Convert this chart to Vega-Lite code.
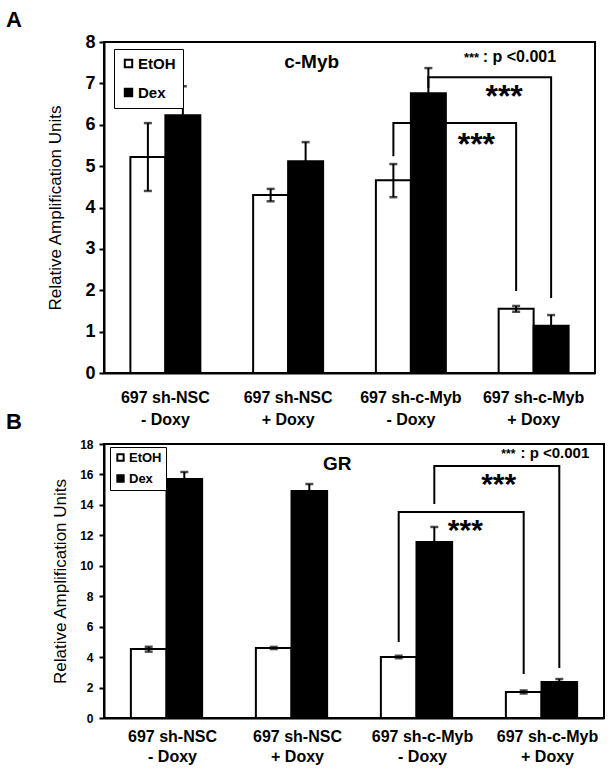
{
  "$schema": "https://vega.github.io/schema/vega-lite/v6.json",
  "background": "white",
  "padding": {"left": 5, "top": 8, "right": 5, "bottom": 5},
  "config": {
    "font": "Liberation Sans",
    "view": {"stroke": "black", "strokeWidth": 2},
    "axis": {"domainColor": "black", "domainWidth": 2, "tickColor": "black", "tickWidth": 2, "labelColor": "black", "titleColor": "black", "grid": false},
    "title": {"color": "black"},
    "text": {"color": "black"}
  },
  "datasets": {
    "barsA": [
      {"group": "697 sh-NSC|- Doxy", "treatment": "EtOH", "value": 5.22, "lo": 4.40, "hi": 6.04},
      {"group": "697 sh-NSC|- Doxy", "treatment": "Dex", "value": 6.23, "lo": 5.53, "hi": 6.93},
      {"group": "697 sh-NSC|+ Doxy", "treatment": "EtOH", "value": 4.30, "lo": 4.15, "hi": 4.45},
      {"group": "697 sh-NSC|+ Doxy", "treatment": "Dex", "value": 5.12, "lo": 4.66, "hi": 5.58},
      {"group": "697 sh-c-Myb|- Doxy", "treatment": "EtOH", "value": 4.66, "lo": 4.25, "hi": 5.05},
      {"group": "697 sh-c-Myb|- Doxy", "treatment": "Dex", "value": 6.76, "lo": 6.15, "hi": 7.37},
      {"group": "697 sh-c-Myb|+ Doxy", "treatment": "EtOH", "value": 1.55, "lo": 1.48, "hi": 1.62},
      {"group": "697 sh-c-Myb|+ Doxy", "treatment": "Dex", "value": 1.14, "lo": 0.88, "hi": 1.40}
    ],
    "barsB": [
      {"group": "697 sh-NSC|- Doxy", "treatment": "EtOH", "value": 4.53, "lo": 4.36, "hi": 4.68},
      {"group": "697 sh-NSC|- Doxy", "treatment": "Dex", "value": 15.70, "lo": 15.24, "hi": 16.16},
      {"group": "697 sh-NSC|+ Doxy", "treatment": "EtOH", "value": 4.60, "lo": 4.53, "hi": 4.67},
      {"group": "697 sh-NSC|+ Doxy", "treatment": "Dex", "value": 14.91, "lo": 14.45, "hi": 15.37},
      {"group": "697 sh-c-Myb|- Doxy", "treatment": "EtOH", "value": 4.01, "lo": 3.93, "hi": 4.09},
      {"group": "697 sh-c-Myb|- Doxy", "treatment": "Dex", "value": 11.56, "lo": 10.57, "hi": 12.55},
      {"group": "697 sh-c-Myb|+ Doxy", "treatment": "EtOH", "value": 1.71, "lo": 1.61, "hi": 1.81},
      {"group": "697 sh-c-Myb|+ Doxy", "treatment": "Dex", "value": 2.37, "lo": 2.18, "hi": 2.56}
    ],
    "bracketsA": [
      {"bracket": "low", "step": 1, "group": "697 sh-c-Myb|- Doxy", "treatment": "EtOH", "value": 5.24},
      {"bracket": "low", "step": 2, "group": "697 sh-c-Myb|- Doxy", "treatment": "EtOH", "value": 6.04},
      {"bracket": "low", "step": 3, "group": "697 sh-c-Myb|+ Doxy", "treatment": "EtOH", "value": 6.04},
      {"bracket": "low", "step": 4, "group": "697 sh-c-Myb|+ Doxy", "treatment": "EtOH", "value": 1.98},
      {"bracket": "high", "step": 1, "group": "697 sh-c-Myb|- Doxy", "treatment": "Dex", "value": 6.89},
      {"bracket": "high", "step": 2, "group": "697 sh-c-Myb|- Doxy", "treatment": "Dex", "value": 7.15},
      {"bracket": "high", "step": 3, "group": "697 sh-c-Myb|+ Doxy", "treatment": "Dex", "value": 7.15},
      {"bracket": "high", "step": 4, "group": "697 sh-c-Myb|+ Doxy", "treatment": "Dex", "value": 1.81}
    ],
    "bracketsB": [
      {"bracket": "low", "step": 1, "group": "697 sh-c-Myb|- Doxy", "treatment": "EtOH", "value": 4.99},
      {"bracket": "low", "step": 2, "group": "697 sh-c-Myb|- Doxy", "treatment": "EtOH", "value": 13.53},
      {"bracket": "low", "step": 3, "group": "697 sh-c-Myb|+ Doxy", "treatment": "EtOH", "value": 13.53},
      {"bracket": "low", "step": 4, "group": "697 sh-c-Myb|+ Doxy", "treatment": "EtOH", "value": 2.89},
      {"bracket": "high", "step": 1, "group": "697 sh-c-Myb|- Doxy", "treatment": "Dex", "value": 14.06},
      {"bracket": "high", "step": 2, "group": "697 sh-c-Myb|- Doxy", "treatment": "Dex", "value": 16.56},
      {"bracket": "high", "step": 3, "group": "697 sh-c-Myb|+ Doxy", "treatment": "Dex", "value": 16.56},
      {"bracket": "high", "step": 4, "group": "697 sh-c-Myb|+ Doxy", "treatment": "Dex", "value": 3.29}
    ]
  },
  "spacing": 71,
  "bounds": "flush",
  "resolve": {
    "scale": {"x": "independent", "y": "independent", "fill": "independent", "xOffset": "independent"},
    "legend": {"fill": "independent"}
  },
  "vconcat": [
    {
      "width": 491,
      "height": 331,
      "title": {"text": "A", "anchor": "start", "frame": "group", "dx": -98, "fontSize": 22, "fontWeight": "bold", "offset": 1},
      "layer": [
        {
          "data": {"name": "barsA"},
          "mark": {"type": "bar", "stroke": "black", "strokeWidth": 2},
          "encoding": {
            "x": {"field": "group", "type": "nominal",
              "scale": {"domain": ["697 sh-NSC|- Doxy", "697 sh-NSC|+ Doxy", "697 sh-c-Myb|- Doxy", "697 sh-c-Myb|+ Doxy"], "paddingInner": 0.43, "paddingOuter": 0.215},
              "axis": {"title": null, "labelExpr": "split(datum.label, '|')", "labelAngle": 0, "labelFontSize": 16, "labelFontWeight": "bold", "labelPadding": 16, "ticks": false, "labelLineHeight": 22}},
            "xOffset": {"field": "treatment", "type": "nominal", "scale": {"domain": ["EtOH", "Dex"]}},
            "y": {"field": "value", "type": "quantitative",
              "scale": {"domain": [0, 8], "nice": false},
              "axis": {"title": "Relative Amplification Units", "tickCount": 8, "labelOverlap": false, "labelFontSize": 18, "labelFontWeight": "bold", "tickSize": 5, "labelPadding": 4, "titleFontSize": 17, "titleFontWeight": "normal", "titlePadding": 20}},
            "fill": {"field": "treatment", "type": "nominal",
              "scale": {"domain": ["EtOH", "Dex"], "range": ["white", "black"]},
              "legend": {"orient": "none", "legendX": 10, "legendY": 7, "title": null, "strokeColor": "black", "fillColor": "white", "padding": 7, "rowPadding": 12, "labelFontSize": 15, "labelFontWeight": "bold", "labelColor": "black", "symbolType": "square", "symbolSize": 55, "symbolStrokeColor": "black", "symbolStrokeWidth": 2, "labelOffset": 2}}
          }
        },
        {
          "data": {"name": "barsA"},
          "mark": {"type": "rule", "color": "black", "strokeWidth": 2},
          "encoding": {
            "x": {"field": "group", "type": "nominal"},
            "xOffset": {"field": "treatment", "type": "nominal"},
            "y": {"field": "lo", "type": "quantitative"},
            "y2": {"field": "hi"}
          }
        },
        {
          "data": {"name": "barsA"},
          "mark": {"type": "tick", "color": "black", "size": 8, "thickness": 2.5, "orient": "horizontal"},
          "encoding": {
            "x": {"field": "group", "type": "nominal"},
            "xOffset": {"field": "treatment", "type": "nominal"},
            "y": {"field": "hi", "type": "quantitative"}
          }
        },
        {
          "data": {"name": "barsA"},
          "mark": {"type": "tick", "color": "black", "size": 8, "thickness": 2.5, "orient": "horizontal"},
          "encoding": {
            "x": {"field": "group", "type": "nominal"},
            "xOffset": {"field": "treatment", "type": "nominal"},
            "y": {"field": "lo", "type": "quantitative"}
          }
        },
        {
          "data": {"name": "bracketsA"},
          "mark": {"type": "line", "color": "black", "strokeWidth": 2},
          "encoding": {
            "x": {"field": "group", "type": "nominal"},
            "xOffset": {"field": "treatment", "type": "nominal"},
            "y": {"field": "value", "type": "quantitative"},
            "detail": {"field": "bracket"},
            "order": {"field": "step", "type": "quantitative"}
          }
        },
        {
          "data": {"values": [{}]},
          "mark": {"type": "text", "text": "c-Myb", "fontSize": 19, "fontWeight": "bold", "dx": 6, "baseline": "middle"},
          "encoding": {"x": {"datum": "697 sh-NSC|+ Doxy"}, "xOffset": {"datum": "Dex"}, "y": {"datum": 7.52}}
        },
        {
          "data": {"values": [{}]},
          "mark": {"type": "text", "text": ": p <0.001", "fontSize": 16, "fontWeight": "bold", "align": "right", "dx": 5, "baseline": "middle"},
          "encoding": {"x": {"datum": "697 sh-c-Myb|+ Doxy"}, "xOffset": {"datum": "Dex"}, "y": {"datum": 7.64}}
        },
        {
          "data": {"values": [{}]},
          "mark": {"type": "text", "text": "***", "fontSize": 13, "fontWeight": "bold", "align": "right", "dx": -72, "dy": 1, "baseline": "middle"},
          "encoding": {"x": {"datum": "697 sh-c-Myb|+ Doxy"}, "xOffset": {"datum": "Dex"}, "y": {"datum": 7.64}}
        },
        {
          "data": {"values": [{}]},
          "mark": {"type": "text", "text": "***", "fontSize": 32, "fontWeight": "bold", "align": "center", "dx": 48, "dy": 8, "baseline": "middle"},
          "encoding": {"x": {"datum": "697 sh-c-Myb|- Doxy"}, "xOffset": {"datum": "Dex"}, "y": {"datum": 5.70}}
        },
        {
          "data": {"values": [{}]},
          "mark": {"type": "text", "text": "***", "fontSize": 32, "fontWeight": "bold", "align": "center", "dx": -12, "dy": 8, "baseline": "middle"},
          "encoding": {"x": {"datum": "697 sh-c-Myb|+ Doxy"}, "xOffset": {"datum": "EtOH"}, "y": {"datum": 6.86}}
        }
      ]
    },
    {
      "width": 500,
      "height": 274,
      "title": {"text": "B", "anchor": "start", "frame": "group", "dx": -98, "fontSize": 22, "fontWeight": "bold", "offset": 4},
      "layer": [
        {
          "data": {"name": "barsB"},
          "mark": {"type": "bar", "stroke": "black", "strokeWidth": 2},
          "encoding": {
            "x": {"field": "group", "type": "nominal",
              "scale": {"domain": ["697 sh-NSC|- Doxy", "697 sh-NSC|+ Doxy", "697 sh-c-Myb|- Doxy", "697 sh-c-Myb|+ Doxy"], "paddingInner": 0.43, "paddingOuter": 0.215},
              "axis": {"title": null, "labelExpr": "split(datum.label, '|')", "labelAngle": 0, "labelFontSize": 16, "labelFontWeight": "bold", "labelPadding": 10, "ticks": false, "labelLineHeight": 20, "labelOffset": 6}},
            "xOffset": {"field": "treatment", "type": "nominal", "scale": {"domain": ["EtOH", "Dex"]}},
            "y": {"field": "value", "type": "quantitative",
              "scale": {"domain": [0, 18], "nice": false},
              "axis": {"title": "Relative Amplification Units", "tickCount": 9, "labelOverlap": false, "labelFontSize": 12, "labelFontWeight": "bold", "tickSize": 5, "labelPadding": 6, "titleFontSize": 17, "titleFontWeight": "normal", "titlePadding": 10}},
            "fill": {"field": "treatment", "type": "nominal",
              "scale": {"domain": ["EtOH", "Dex"], "range": ["white", "black"]},
              "legend": {"orient": "none", "legendX": 6, "legendY": 3, "title": null, "strokeColor": "black", "fillColor": "white", "padding": 4, "rowPadding": 6, "labelFontSize": 13, "labelFontWeight": "bold", "labelColor": "black", "symbolType": "square", "symbolSize": 40, "symbolStrokeColor": "black", "symbolStrokeWidth": 2, "labelOffset": 2}}
          }
        },
        {
          "data": {"name": "barsB"},
          "mark": {"type": "rule", "color": "black", "strokeWidth": 2},
          "encoding": {
            "x": {"field": "group", "type": "nominal"},
            "xOffset": {"field": "treatment", "type": "nominal"},
            "y": {"field": "lo", "type": "quantitative"},
            "y2": {"field": "hi"}
          }
        },
        {
          "data": {"name": "barsB"},
          "mark": {"type": "tick", "color": "black", "size": 8, "thickness": 2.5, "orient": "horizontal"},
          "encoding": {
            "x": {"field": "group", "type": "nominal"},
            "xOffset": {"field": "treatment", "type": "nominal"},
            "y": {"field": "hi", "type": "quantitative"}
          }
        },
        {
          "data": {"name": "barsB"},
          "mark": {"type": "tick", "color": "black", "size": 8, "thickness": 2.5, "orient": "horizontal"},
          "encoding": {
            "x": {"field": "group", "type": "nominal"},
            "xOffset": {"field": "treatment", "type": "nominal"},
            "y": {"field": "lo", "type": "quantitative"}
          }
        },
        {
          "data": {"name": "bracketsB"},
          "mark": {"type": "line", "color": "black", "strokeWidth": 2},
          "encoding": {
            "x": {"field": "group", "type": "nominal"},
            "xOffset": {"field": "treatment", "type": "nominal"},
            "y": {"field": "value", "type": "quantitative"},
            "detail": {"field": "bracket"},
            "order": {"field": "step", "type": "quantitative"}
          }
        },
        {
          "data": {"values": [{}]},
          "mark": {"type": "text", "text": "GR", "fontSize": 19, "fontWeight": "bold", "dx": 28, "baseline": "middle"},
          "encoding": {"x": {"datum": "697 sh-NSC|+ Doxy"}, "xOffset": {"datum": "Dex"}, "y": {"datum": 16.69}}
        },
        {
          "data": {"values": [{}]},
          "mark": {"type": "text", "text": ": p <0.001", "fontSize": 15, "fontWeight": "bold", "align": "right", "dx": 30, "baseline": "middle"},
          "encoding": {"x": {"datum": "697 sh-c-Myb|+ Doxy"}, "xOffset": {"datum": "Dex"}, "y": {"datum": 17.41}}
        },
        {
          "data": {"values": [{}]},
          "mark": {"type": "text", "text": "***", "fontSize": 12, "fontWeight": "bold", "align": "right", "dx": -44, "dy": 1, "baseline": "middle"},
          "encoding": {"x": {"datum": "697 sh-c-Myb|+ Doxy"}, "xOffset": {"datum": "Dex"}, "y": {"datum": 17.41}}
        },
        {
          "data": {"values": [{}]},
          "mark": {"type": "text", "text": "***", "fontSize": 30, "fontWeight": "bold", "align": "center", "dx": 31, "dy": 7, "baseline": "middle"},
          "encoding": {"x": {"datum": "697 sh-c-Myb|- Doxy"}, "xOffset": {"datum": "Dex"}, "y": {"datum": 12.75}}
        },
        {
          "data": {"values": [{}]},
          "mark": {"type": "text", "text": "***", "fontSize": 30, "fontWeight": "bold", "align": "center", "dx": -25, "dy": 7, "baseline": "middle"},
          "encoding": {"x": {"datum": "697 sh-c-Myb|+ Doxy"}, "xOffset": {"datum": "EtOH"}, "y": {"datum": 15.77}}
        }
      ]
    }
  ]
}
